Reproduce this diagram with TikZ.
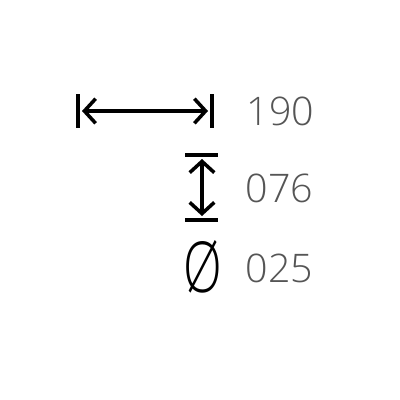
\documentclass[tikz,border=0pt]{standalone}
\usepackage{fontspec}
\setmainfont{Open Sans Light}
\usetikzlibrary{arrows.meta}
\definecolor{txt}{HTML}{555555}
\begin{document}
\begin{tikzpicture}[x=0.01cm,y=-0.01cm,
  bar/.style={line width=1.2pt},
  dimline/.style={line width=1.0pt,{Straight Barb[length=3.2pt,width=7pt]}-{Straight Barb[length=3.2pt,width=7pt]}},
  val/.style={text=txt,font=\fontsize{11.2}{14}\selectfont,anchor=west,inner sep=0pt}]
\useasboundingbox (0,0) rectangle (400,400);
% horizontal dimension
\coordinate (hl1) at (78,94); \coordinate (hl2) at (78,128);
\coordinate (hr1) at (212,94); \coordinate (hr2) at (212,128);
\draw[bar] (hl1) -- (hl2);
\draw[bar] (hr1) -- (hr2);
\coordinate (ha) at (82,111); \coordinate (hb) at (208,111);
\draw[dimline] (ha) -- (hb);
\node[val] (t190) at (246,111) {190};
% vertical dimension
\coordinate (vt1) at (185,155); \coordinate (vt2) at (218,155);
\coordinate (vb1) at (185,220); \coordinate (vb2) at (218,220);
\draw[bar] (vt1) -- (vt2);
\draw[bar] (vb1) -- (vb2);
\coordinate (va) at (202,159); \coordinate (vb) at (202,216);
\draw[dimline] (va) -- (vb);
\node[val] (t076) at (245,188) {076};
% diameter
\node[inner sep=0pt,font=\fontsize{20}{22}\selectfont] (dia) at (203,267) {\scalebox{0.72}[1]{Ø}};
\node[val] (t025) at (245,268) {025};
\end{tikzpicture}
\end{document}
